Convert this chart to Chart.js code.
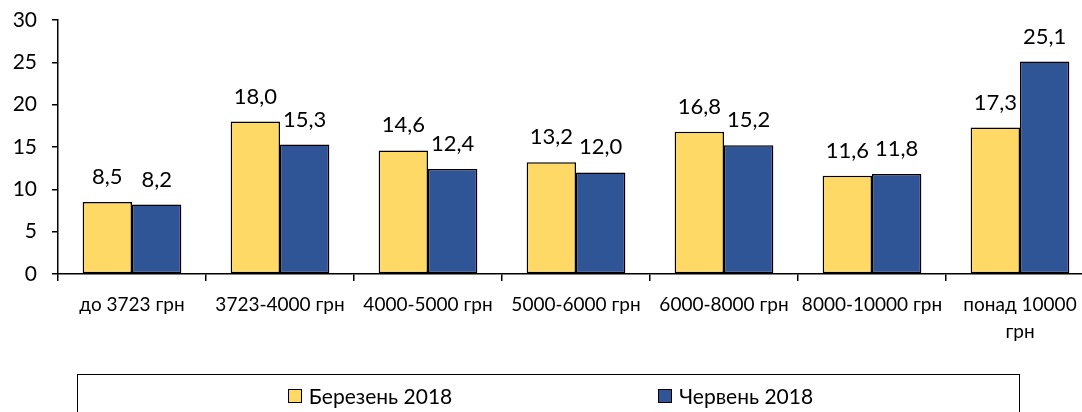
<!DOCTYPE html>
<html>
<head>
<meta charset="utf-8">
<script src="https://cdn.jsdelivr.net/npm/chart.js@4.4.0/dist/chart.umd.min.js"></script>
<style>
    html, body { margin: 0; padding: 0; background: #fff; overflow: hidden; }
    #wrap { position: relative; width: 1100px; height: 412px; }
    #legend {
        position: absolute; left: 77px; top: 374px; width: 943px; height: 60px;
        border: 1.5px solid #000; box-sizing: border-box;
        display: flex; justify-content: center; gap: 206px; padding-left: 4px; padding-top: 10px;
        font-family: Lato, sans-serif; font-size: 21px; color: #000;
    }
    .item { display: flex; align-items: center; height: 21px; }
    .box { width: 12px; height: 12px; border: 1px solid #000; margin-right: 7px; }
</style>
</head>
<body>
<div id="wrap">
    <canvas id="chart" width="1100" height="412"></canvas>
    <div id="legend"></div>
</div>
<script>
// Дані
const categories = ['до 3723 грн', '3723-4000 грн', '4000-5000 грн', '5000-6000 грн', '6000-8000 грн', '8000-10000 грн', ['понад 10000', 'грн']];
const march2018 = [8.5, 18.0, 14.6, 13.2, 16.8, 11.6, 17.3];
const june2018 = [8.2, 15.3, 12.4, 12.0, 15.2, 11.8, 25.1];
const seriesNames = ['Березень 2018', 'Червень 2018'];
const yTicks = [0, 5, 10, 15, 20, 25, 30];

const fontFamily = 'Lato, sans-serif';

// Підписи значень над стовпчиками
const valueLabels = {
    id: 'valueLabels',
    afterDatasetsDraw(chart) {
        const ctx = chart.ctx;
        ctx.save();
        ctx.font = '22px ' + fontFamily;
        ctx.fillStyle = '#000';
        ctx.textAlign = 'center';
        ctx.textBaseline = 'middle';
        chart.data.datasets.forEach((ds, i) => {
            chart.getDatasetMeta(i).data.forEach((bar, j) => {
                const txt = ds.data[j].toFixed(1).replace('.', ',');
                ctx.fillText(txt, bar.x, bar.y - 25);
            });
        });
        ctx.restore();
    }
};

const ctx = document.getElementById('chart').getContext('2d');
const chart = new Chart(ctx, {
    type: 'bar',
    data: {
        labels: categories,
        datasets: [
            {
                label: seriesNames[0],
                data: march2018,
                backgroundColor: '#FFD966',
                borderColor: '#000',
                borderWidth: 1.5,
                borderSkipped: false
            },
            {
                label: seriesNames[1],
                data: june2018,
                backgroundColor: '#2F5597',
                borderColor: '#000',
                borderWidth: 1.5,
                borderSkipped: false
            }
        ]
    },
    options: {
        responsive: false,
        animation: false,
        devicePixelRatio: 1,
        layout: { padding: { top: 20, right: 6, left: 0, bottom: 0 } },
        datasets: {
            bar: { categoryPercentage: 0.667, barPercentage: 1.0 }
        },
        scales: {
            x: {
                grid: {
                    display: true,
                    drawOnChartArea: false,
                    drawTicks: true,
                    tickLength: 7,
                    color: '#000',
                    lineWidth: 1.5
                },
                border: { display: true, color: '#000', width: 1.5 },
                ticks: {
                    color: '#000',
                    font: { family: fontFamily, size: 19, lineHeight: 1.45 },
                    padding: 10,
                    maxRotation: 0,
                    autoSkip: false
                },
                afterFit(scale) { scale.height = 138; }
            },
            y: {
                min: 0,
                max: 30,
                afterBuildTicks(scale) { scale.ticks = yTicks.map(v => ({ value: v })); },
                grid: {
                    display: true,
                    drawOnChartArea: false,
                    drawTicks: true,
                    tickLength: 6,
                    color: '#000',
                    lineWidth: 1.5
                },
                border: { display: true, color: '#000', width: 1.5 },
                ticks: {
                    color: '#000',
                    font: { family: fontFamily, size: 21 },
                    padding: 15
                },
                afterFit(scale) {
                    scale.width = 58;
                    scale.paddingTop = 0;
                    scale.paddingBottom = 0;
                }
            }
        },
        plugins: {
            legend: { display: false },
            tooltip: { enabled: false }
        }
    },
    plugins: [valueLabels]
});

// Легенда в рамці
const legendEl = document.getElementById('legend');
chart.data.datasets.forEach(ds => {
    const item = document.createElement('div');
    item.className = 'item';
    const box = document.createElement('span');
    box.className = 'box';
    box.style.background = ds.backgroundColor;
    item.appendChild(box);
    item.appendChild(document.createTextNode(ds.label));
    legendEl.appendChild(item);
});
</script>
</body>
</html>
